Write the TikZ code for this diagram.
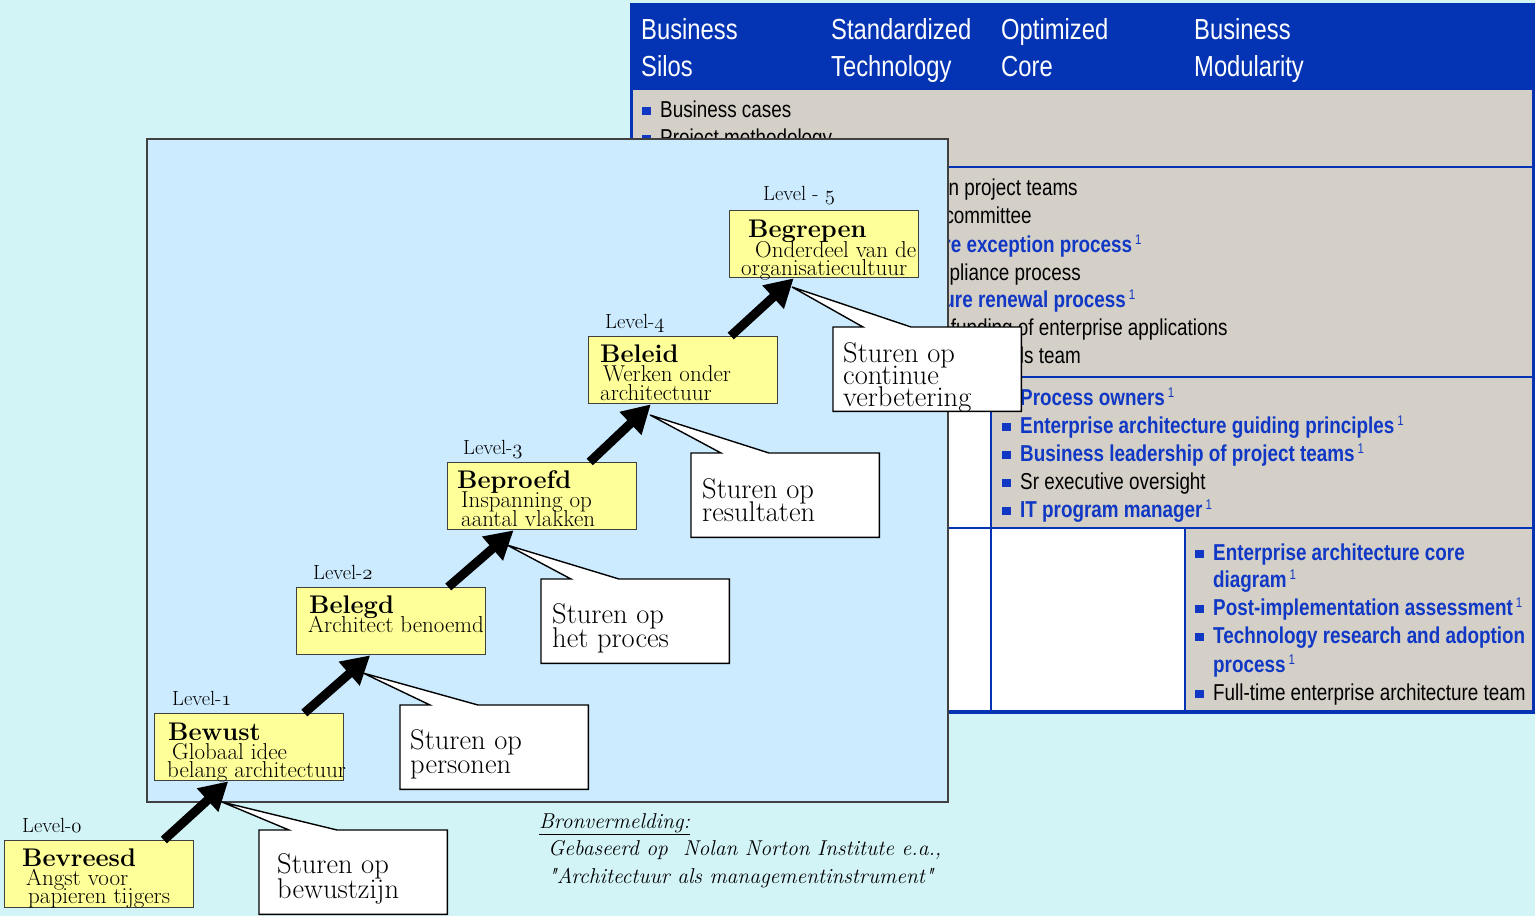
\documentclass[tikz,border=0pt]{standalone}
\usepackage{fontspec}
\usetikzlibrary{arrows.meta,calc}
\newfontfamily\arn[FakeStretch=0.82]{Liberation Sans}
\font\qfont="[lmroman10-italic.otf]" at 21.5pt
\definecolor{bgc}{HTML}{D3F4F7}
\definecolor{panelc}{HTML}{CCEBFF}
\definecolor{yelc}{HTML}{FFFF99}
\definecolor{cellc}{HTML}{D4D0C8}
\definecolor{hdrc}{HTML}{0434B4}
\definecolor{bluet}{HTML}{1038C4}
\definecolor{edgec}{HTML}{404040}
\newcommand\osn[1]{\ensuremath{\mathnormal{#1}}}
\newcommand\supone{\hspace{3pt}\raisebox{8pt}{\fontsize{14}{14}\selectfont\mdseries 1}}
\newcommand\sq{{\qfont\char"22}}
\newcommand\bul[2]{\fill[bluet] (#1-18,#2-10) rectangle ++(9,8);}
\begin{document}
\begin{tikzpicture}[x=1pt,y=-1pt,
 ybox/.style={draw=edgec, fill=yelc, line width=1.3pt, anchor=north west, inner sep=0, minimum width=189pt, minimum height=67pt},
 cgeo/.style={anchor=north west, inner sep=0, minimum width=188pt, minimum height=84pt},
 callout/.style={fill=white, draw=black, line width=1.4pt, line join=miter},
 ctext/.style={anchor=base west, inner sep=0, font=\fontsize{28.5}{28.5}\selectfont},
 lvl/.style={anchor=base west, inner sep=0, font=\fontsize{20.5}{20.5}\selectfont},
 ttl/.style={anchor=base west, inner sep=0, font=\bfseries\fontsize{25.5}{25.5}\selectfont},
 sub/.style={anchor=base west, inner sep=0, font=\fontsize{23}{23}\selectfont},
 ti/.style={anchor=base west, inner sep=0, font=\arn\fontsize{23}{28}\selectfont},
 tib/.style={anchor=base west, inner sep=0, text=bluet, font=\arn\bfseries\fontsize{23}{28}\selectfont},
 hdr/.style={anchor=base west, inner sep=0, text=white, font=\arn\fontsize{29}{29}\selectfont},
 src/.style={anchor=base west, inner sep=0, font=\itshape\fontsize{21.5}{21.5}\selectfont},
 bigarr/.style={line width=9pt, -{Triangle[length=28pt,width=30pt]}},
 tline/.style={draw=hdrc, line width=2.5pt},
]
% background
\fill[bgc] (0,0) rectangle (1535,916);
\useasboundingbox (0,0) rectangle (1535,916);

% ---------------- table ----------------
\fill[hdrc] (630,3) rectangle (1535,90);
\fill[cellc] (632,90) rectangle (1533,167);
\fill[white] (632,167) rectangle (822,377);
\fill[cellc] (822,167) rectangle (1533,377);
\fill[white] (632,377) rectangle (991,528);
\fill[cellc] (991,377) rectangle (1533,528);
\fill[white] (632,528) rectangle (1185,712);
\fill[cellc] (1185,528) rectangle (1533,712);
\draw[tline] (631.5,90) -- (631.5,713);
\draw[tline] (1533.5,90) -- (1533.5,713);
\draw[tline] (630,167) -- (1535,167);
\draw[tline] (630,377) -- (1535,377);
\draw[tline] (630,528) -- (1535,528);
\draw[draw=hdrc, line width=4pt] (630,712) -- (1535,712);
\draw[draw=hdrc, line width=2pt] (822,167) -- (822,712);
\draw[draw=hdrc, line width=2pt] (991,377) -- (991,712);
\draw[draw=hdrc, line width=2pt] (1185,528) -- (1185,712);

\node[hdr] (h1a) at (641,39) {Business};
\node[hdr] (h1b) at (641,76) {Silos};
\node[hdr] (h2a) at (831,39) {Standardized};
\node[hdr] (h2b) at (831,76) {Technology};
\node[hdr] (h3a) at (1001,39) {Optimized};
\node[hdr] (h3b) at (1001,76) {Core};
\node[hdr] (h4a) at (1194,39) {Business};
\node[hdr] (h4b) at (1194,76) {Modularity};

% row 1
\bul{660}{117} \node[ti] (r1a) at (660,117) {Business cases};
\bul{660}{145} \node[ti] (r1b) at (660,145) {Project methodology};
% row 2
\bul{850}{195} \node[ti] (r2a) at (850,195) {Architects on project teams};
\bul{850}{223} \node[ti] (r2b) at (850,223) {IT steering committee};
\bul{850}{252} \node[tib] (r2c) at (850,252) {Architecture exception process\supone};
\bul{850}{280} \node[ti] (r2d) at (850,280) {Formal compliance process};
\bul{850}{307} \node[tib] (r2e) at (850,307) {Infrastructure renewal process\supone};
\bul{850}{335} \node[ti] (r2f) at (850,335) {Centralized funding of enterprise applications};
\bul{850}{363} \node[ti] (r2g) at (850,363) {Centralized standards team};
% row 3
\bul{1020}{405} \node[tib] (r3a) at (1020,405) {Process owners\supone};
\bul{1020}{433} \node[tib] (r3b) at (1020,433) {Enterprise architecture guiding principles\supone};
\bul{1020}{461} \node[tib] (r3c) at (1020,461) {Business leadership of project teams\supone};
\bul{1020}{489} \node[ti] (r3d) at (1020,489) {Sr executive oversight};
\bul{1020}{517} \node[tib] (r3e) at (1020,517) {IT program manager\supone};
% row 4
\bul{1213}{560} \node[tib] (r4a) at (1213,560) {Enterprise architecture core};
\node[tib] (r4b) at (1213,587) {diagram\supone};
\bul{1213}{615} \node[tib] (r4c) at (1213,615) {Post-implementation assessment\supone};
\bul{1213}{643} \node[tib] (r4d) at (1213,643) {Technology research and adoption};
\node[tib] (r4e) at (1213,672) {process\supone};
\bul{1213}{700} \node[ti] (r4f) at (1213,700) {Full-time enterprise architecture team};

% ---------------- panel ----------------
\filldraw[fill=panelc, draw=edgec, line width=1.5pt] (147,139) rectangle (948,802);

% ---------------- level boxes ----------------
\node[ybox] (b0) at (4,840) {};
\node[ybox] (b1) at (154,713) {};
\node[ybox] (b2) at (296,587) {};
\node[ybox] (b3) at (447,462) {};
\node[ybox] (b4) at (588,336) {};
\node[ybox] (b5) at (729,210) {};

\node[lvl] (l0) at (22,832) {Level-\osn{0}};
\node[ttl] (t0) at (22,866) {Bevreesd};
\node[sub] (u0a) at (26,885) {Angst voor};
\node[sub] (u0b) at (28,903) {papieren tijgers};

\node[lvl] (l1) at (172,705) {Level-\osn{1}};
\node[ttl] (t1) at (168,740) {Bewust};
\node[sub] (u1a) at (172,759) {Globaal idee};
\node[sub] (u1b) at (167,777) {belang architectuur};

\node[lvl] (l2) at (313,579) {Level-\osn{2}};
\node[ttl] (t2) at (309,613) {Belegd};
\node[sub] (u2a) at (308,632) {Architect benoemd};

\node[lvl] (l3) at (463,454) {Level-\osn{3}};
\node[ttl] (t3) at (457,488) {Beproefd};
\node[sub] (u3a) at (461,507) {Inspanning op};
\node[sub] (u3b) at (461,526) {aantal vlakken};

\node[lvl] (l4) at (605,328) {Level-\osn{4}};
\node[ttl] (t4) at (600,362) {Beleid};
\node[sub] (u4a) at (603,381) {Werken onder};
\node[sub] (u4b) at (600,400) {architectuur};

\node[lvl] (l5) at (763,200) {Level - \osn{5}};
\node[ttl] (t5) at (748,237) {Begrepen};
\node[sub] (u5a) at (755,257) {Onderdeel van de};
\node[sub] (u5b) at (741,275) {organisatiecultuur};

% ---------------- callouts ----------------
\node[cgeo] (s0) at (259,830) {};
\node[cgeo] (s1) at (400,705) {};
\node[cgeo] (s2) at (541,579) {};
\node[cgeo] (s3) at (691,453) {};
\node[cgeo] (s4) at (833,327) {};
\coordinate (p0) at (222,802);
\coordinate (p1) at (363,673);
\coordinate (p2) at (507,545);
\coordinate (p3) at (650,415);
\coordinate (p4) at (792,287);
\foreach \s/\p in {s0/p0,s1/p1,s2/p2,s3/p3,s4/p4}{
  \filldraw[callout] (\s.north west) -- ($(\s.north west)+(30,0)$) -- (\p)
     -- ($(\s.north west)+(78,0)$) -- (\s.north east) -- (\s.south east)
     -- (\s.south west) -- cycle;
}
\node[ctext] (c0a) at (277,873) {Sturen op};
\node[ctext] (c0b) at (277,898) {bewustzijn};
\node[ctext] (c1a) at (410,749) {Sturen op};
\node[ctext] (c1b) at (410,773) {personen};
\node[ctext] (c2a) at (552,623) {Sturen op};
\node[ctext] (c2b) at (552,647) {het proces};
\node[ctext] (c3a) at (702,498) {Sturen op};
\node[ctext] (c3b) at (702,521) {resultaten};
\node[ctext] (c4a) at (843,362) {Sturen op};
\node[ctext] (c4b) at (843,384) {continue};
\node[ctext] (c4c) at (843,406) {verbetering};

% ---------------- arrows ----------------
\draw[bigarr] ($(b0.north west)!0.84!(b0.north east)$) -- ($(b1.south west)!0.39!(b1.south east)$);
\draw[bigarr] ($(b1.north west)!0.79!(b1.north east)$) -- ($(b2.south west)!0.39!(b2.south east)$);
\draw[bigarr] ($(b2.north west)!0.80!(b2.north east)$) -- ($(b3.south west)!0.35!(b3.south east)$);
\draw[bigarr] ($(b3.north west)!0.75!(b3.north east)$) -- ($(b4.south west)!0.33!(b4.south east)$);
\draw[bigarr] ($(b4.north west)!0.75!(b4.north east)$) -- ($(b5.south west)!0.34!(b5.south east)$);

% ---------------- source ----------------
\node[src] (bron) at (539,828) {\underline{Bronvermelding:}};
\node[src] (bron1) at (548,855) {Gebaseerd op\ \ Nolan Norton Institute e.a.,};
\node[src] (bron2) at (548,883) {\sq Architectuur als managementinstrument\sq};
\end{tikzpicture}
\end{document}
